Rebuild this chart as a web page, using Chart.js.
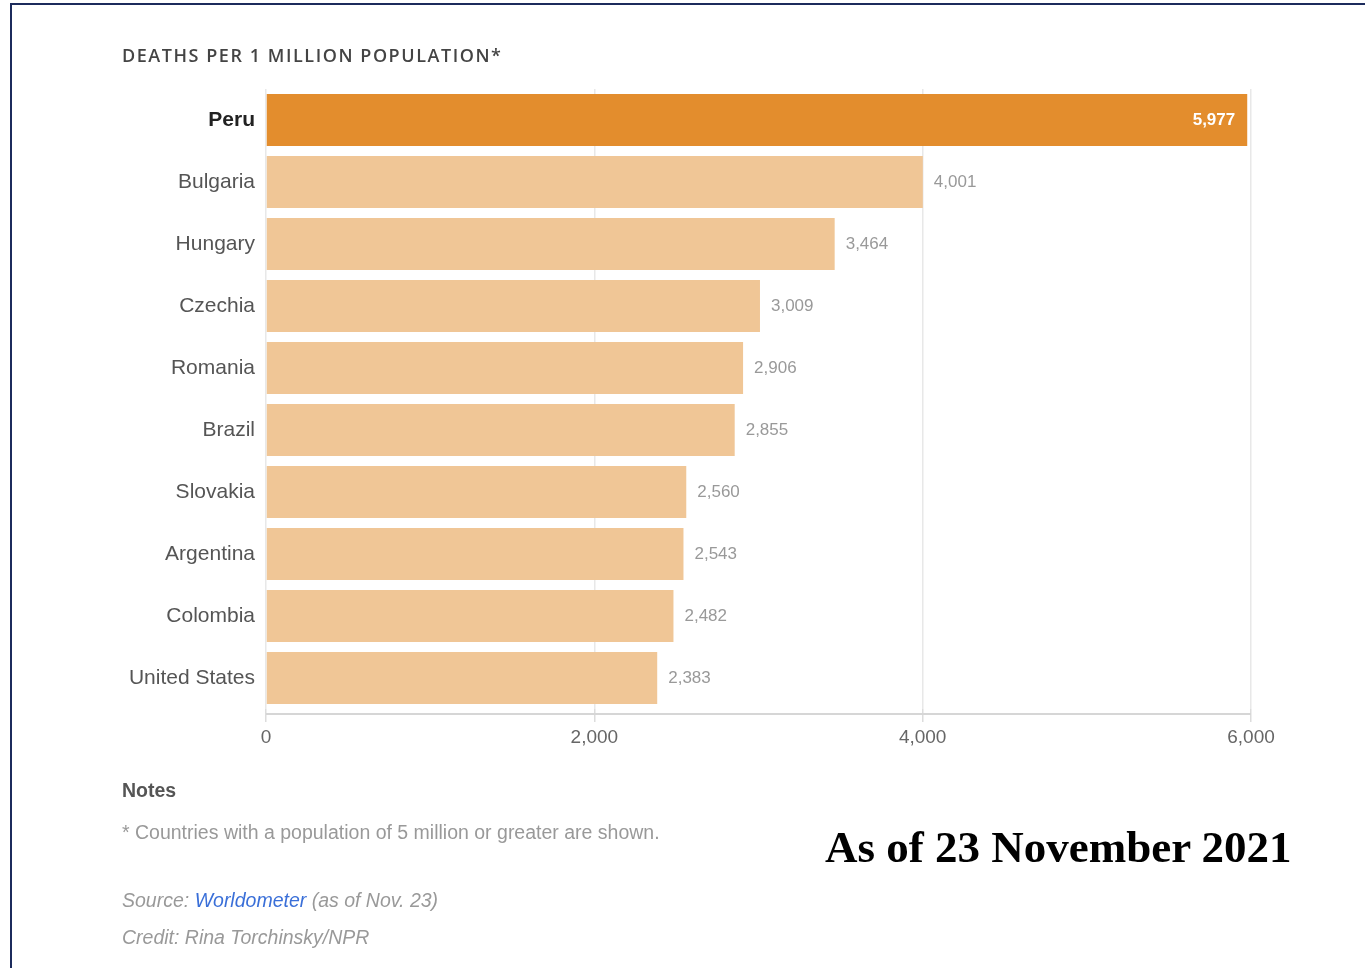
<!DOCTYPE html>
<html>
<head>
<meta charset="utf-8">
<script src="https://cdn.jsdelivr.net/npm/chart.js@4.4.0/dist/chart.umd.min.js"></script>
<style>
  html, body { margin: 0; padding: 0; background: #fff; }
  body { width: 1365px; height: 968px; position: relative; overflow: hidden; font-family: "Liberation Sans", Arial, sans-serif; }
  #frame { position: absolute; left: 10px; top: 3px; width: 1400px; height: 1000px; border-top: 2px solid #1c2b5c; border-left: 2px solid #1c2b5c; }
  #wrap { position: absolute; left: 0; top: 0; width: 1365px; height: 968px; }
  .t { position: absolute; white-space: nowrap; }
  #title { left: 122px; top: 43px; font-family: "Open Sans", sans-serif; font-weight: 600; font-size: 18px; letter-spacing: 1.55px; color: #444; }
  #notes { left: 122px; top: 779px; font-weight: bold; font-size: 19.5px; color: #555; }
  #note1 { left: 122px; top: 821px; font-size: 19.5px; color: #999; }
  #source { left: 122px; top: 889px; font-size: 19.5px; color: #999; font-style: italic; }
  #source span { color: #3a6fd8; }
  #credit { left: 122px; top: 926px; font-size: 19.5px; color: #999; font-style: italic; }
  #asof { left: 825px; top: 821px; font-family: "Liberation Serif", serif; font-weight: bold; font-size: 45px; color: #000; }
</style>
</head>
<body>
<div id="frame"></div>
<div id="wrap"><canvas id="c" width="1365" height="968"></canvas></div>
<div class="t" id="title">DEATHS PER 1 MILLION POPULATION*</div>
<div class="t" id="notes">Notes</div>
<div class="t" id="note1">* Countries with a population of 5 million or greater are shown.</div>
<div class="t" id="source">Source: <span>Worldometer</span> (as of Nov. 23)</div>
<div class="t" id="credit">Credit: Rina Torchinsky/NPR</div>
<div class="t" id="asof">As of 23 November 2021</div>
<script>
const categories = ["Peru","Bulgaria","Hungary","Czechia","Romania","Brazil","Slovakia","Argentina","Colombia","United States"];
const deathsPerMillion = [5977,4001,3464,3009,2906,2855,2560,2543,2482,2383];
const xTicks = [0, 2000, 4000, 6000];

const highlightColor = "#e38d2d";
const baseColor = "#f0c696";

const fmt = v => v.toLocaleString("en-US");

const valueLabels = {
  id: "valueLabels",
  afterDatasetsDraw(chart) {
    const ctx = chart.ctx;
    const meta = chart.getDatasetMeta(0);
    ctx.save();
    ctx.textBaseline = "middle";
    meta.data.forEach((bar, i) => {
      const v = deathsPerMillion[i];
      if (i === 0) {
        ctx.font = "bold 17px 'Liberation Sans', Arial, sans-serif";
        ctx.fillStyle = "#fff";
        ctx.textAlign = "right";
        ctx.fillText(fmt(v), bar.x - 12, bar.y);
      } else {
        ctx.font = "17px 'Liberation Sans', Arial, sans-serif";
        ctx.fillStyle = "#999";
        ctx.textAlign = "left";
        ctx.fillText(fmt(v), bar.x + 11, bar.y);
      }
    });
    ctx.restore();
  }
};

const axisLine = {
  id: "axisLine",
  afterDraw(chart) {
    const x = chart.scales.x;
    const y = chart.chartArea.bottom + 5;
    const ctx = chart.ctx;
    ctx.save();
    ctx.strokeStyle = "#d6d6d6";
    ctx.lineWidth = 2;
    ctx.beginPath();
    ctx.moveTo(x.getPixelForValue(0), y);
    ctx.lineTo(x.getPixelForValue(6000), y);
    ctx.stroke();
    ctx.restore();
  }
};

new Chart(document.getElementById("c"), {
  type: "bar",
  data: {
    labels: categories,
    datasets: [{
      data: deathsPerMillion,
      backgroundColor: deathsPerMillion.map((v, i) => i === 0 ? highlightColor : baseColor),
      borderWidth: 0,
      categoryPercentage: 1,
      barPercentage: 0.84
    }]
  },
  options: {
    indexAxis: "y",
    responsive: false,
    animation: false,
    devicePixelRatio: 1,
    layout: { padding: { top: 89, right: 114, bottom: 199, left: 0 } },
    plugins: { legend: { display: false }, tooltip: { enabled: false } },
    scales: {
      x: {
        type: "linear",
        min: 0, max: 6000,
        afterBuildTicks: s => { s.ticks = xTicks.map(v => ({ value: v })); },
        afterFit: s => { s.height = 60; },
        border: { display: false },
        grid: { color: "#e8e8e8", lineWidth: 1.5, drawTicks: true, tickLength: 13, tickColor: "#dcdcdc" },
        ticks: {
          color: "#666",
          padding: 4,
          font: { family: "'Liberation Sans', Arial, sans-serif", size: 19 },
          callback: v => fmt(v)
        }
      },
      y: {
        afterFit: s => { s.width = 266; },
        border: { display: false },
        grid: { display: false },
        ticks: {
          padding: 3,
          color: c => c.index === 0 ? "#222" : "#555",
          font: c => ({ family: "'Liberation Sans', Arial, sans-serif", size: 21, weight: c.index === 0 ? "bold" : "normal" })
        }
      }
    }
  },
  plugins: [valueLabels, axisLine]
});
</script>
</body>
</html>
